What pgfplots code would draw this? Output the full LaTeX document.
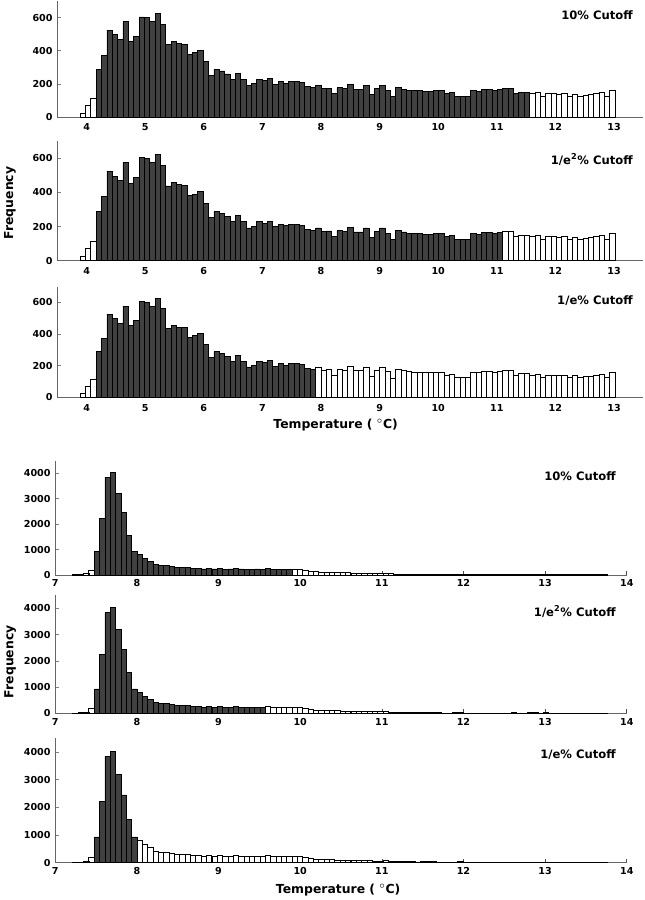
\documentclass[border=0pt]{standalone}
\usepackage{fontspec}
\setmainfont{DejaVu Sans}
\usepackage{pgfplots}
\pgfplotsset{compat=1.18}
\usepackage{pgfplotstable}

% top group: 100 bins of width 0.0913
\pgfplotstableread{
x y
3.936 24
4.027 72
4.118 112
4.210 288
4.301 374
4.392 524
4.483 496
4.575 468
4.666 574
4.757 454
4.848 488
4.940 604
5.031 600
5.122 574
5.214 624
5.305 560
5.396 438
5.487 456
5.579 444
5.670 440
5.761 380
5.853 390
5.944 404
6.035 334
6.127 252
6.218 288
6.309 278
6.401 260
6.492 228
6.583 264
6.675 228
6.766 192
6.857 200
6.949 228
7.040 218
7.131 232
7.222 198
7.314 212
7.405 204
7.496 212
7.588 214
7.679 206
7.770 182
7.862 176
7.953 192
8.044 172
8.136 174
8.227 140
8.318 178
8.409 170
8.501 194
8.592 168
8.683 168
8.775 192
8.866 135
8.957 172
9.048 192
9.140 162
9.231 122
9.322 178
9.414 168
9.505 162
9.596 160
9.688 158
9.779 156
9.870 156
9.961 160
10.053 160
10.144 140
10.235 146
10.327 126
10.418 126
10.509 126
10.600 160
10.692 156
10.783 164
10.874 166
10.966 160
11.057 166
11.148 172
11.240 172
11.331 140
11.422 150
11.514 150
11.605 140
11.696 148
11.787 124
11.879 140
11.970 140
12.061 136
12.153 140
12.244 126
12.335 138
12.427 126
12.518 130
12.609 134
12.701 140
12.792 146
12.883 126
12.975 160
}\toptab

% bottom group: 100 bins of width 0.0655
\pgfplotstableread{
x y
7.248 15
7.313 25
7.379 50
7.444 190
7.510 930
7.575 2230
7.641 3850
7.706 4030
7.772 3200
7.837 2450
7.903 1570
7.968 930
8.034 800
8.099 650
8.165 540
8.230 400
8.296 380
8.361 370
8.427 330
8.492 310
8.558 300
8.623 290
8.689 270
8.754 250
8.820 240
8.885 250
8.951 240
9.016 250
9.082 230
9.147 240
9.213 270
9.278 240
9.344 230
9.409 230
9.475 240
9.540 230
9.606 260
9.671 230
9.737 230
9.802 220
9.868 210
9.933 230
9.999 210
10.064 180
10.130 140
10.195 130
10.261 120
10.326 120
10.392 110
10.457 100
10.523 90
10.588 90
10.654 80
10.719 80
10.785 70
10.850 70
10.916 60
10.981 60
11.047 70
11.112 50
11.178 40
11.243 40
11.309 30
11.374 30
11.440 20
11.505 30
11.571 40
11.636 30
11.702 20
11.767 10
11.833 10
11.898 20
11.964 30
12.029 10
12.095 5
12.160 5
12.226 5
12.291 5
12.357 5
12.422 5
12.488 5
12.553 5
12.619 20
12.684 10
12.750 5
12.815 20
12.881 25
12.946 10
13.012 20
13.077 15
13.143 15
13.208 15
13.274 15
13.339 15
13.405 15
13.470 15
13.536 15
13.601 15
13.667 15
13.732 15
}\bottab

\pgfplotsset{
  hist/.style={
    scale only axis, clip=false,
    axis x line=bottom, axis y line=left,
    axis line style={-, black!60, line width=0.7pt},
    ymin=0,
    scaled ticks=false,
    tick label style={font=\bfseries\fontsize{7.2}{8}\selectfont},
    /pgf/number format/assume math mode=true,
    /pgf/number format/1000 sep={},
    tick align=inside, major tick length=2.5pt,
    ytick style={black!50, line width=0.5pt},
  },
  tophist/.style={hist, xmin=3.5, xmax=13.5, ymax=700, width=439.5pt,
    xtick={4,...,13}, ytick={0,200,400,600}, xtick style={draw=none},
    xticklabel style={yshift=-1.5pt}},
  bothist/.style={hist, xmin=7, xmax=14, ymax=4500, width=428.6pt,
    xtick={7,...,14}, ytick={0,1000,2000,3000,4000},
    xtick style={black!70, line width=0.5pt}, major tick length=3pt},
  wbar/.style={ybar, bar shift=0pt, fill=white, draw=black, line width=0.6pt},
  gbar/.style={ybar, bar shift=0pt, fill=black!75, draw=black, line width=0.6pt},
}
\tikzset{
  ttl/.style={anchor=east, font=\bfseries\fontsize{8.7}{10}\selectfont},
  lbl/.style={font=\bfseries\fontsize{9.3}{11}\selectfont},
}

\begin{document}
\begin{tikzpicture}
\path[use as bounding box] (0,0) rectangle (483pt,-675pt);

% ---- top group ----
\begin{axis}[tophist, at={(42.98pt,-87.75pt)}, anchor=south west, height=87pt]
  \addplot[wbar, bar width=0.0913] table {\toptab};
  \addplot[gbar, bar width=0.0913, restrict x to domain=4.16:11.56] table {\toptab};
  \node[ttl] at (rel axis cs:0.99,0.88) {10\% Cutoff};
\end{axis}

\begin{axis}[tophist, at={(42.98pt,-195.5pt)}, anchor=south west, height=89.6pt]
  \addplot[wbar, bar width=0.0913] table {\toptab};
  \addplot[gbar, bar width=0.0913, restrict x to domain=4.16:11.10] table {\toptab};
  \node[ttl] at (rel axis cs:0.99,0.85) {1/e\textsuperscript{2}\% Cutoff};
  \node[lbl, rotate=90] at (rel axis cs:-0.0807,0.483) {Frequency};
\end{axis}

\begin{axis}[tophist, at={(42.98pt,-298.0pt)}, anchor=south west, height=83.1pt]
  \addplot[wbar, bar width=0.0913] table {\toptab};
  \addplot[gbar, bar width=0.0913, restrict x to domain=4.16:7.91] table {\toptab};
  \node[ttl] at (rel axis cs:0.99,0.87) {1/e\% Cutoff};
  \node[lbl] at (rel axis cs:0.475,-0.25) {Temperature ( $^{\circ}$C)};
\end{axis}

% ---- bottom group ----
\begin{axis}[bothist, at={(41.48pt,-431.25pt)}, anchor=south west, height=85.8pt]
  \addplot[wbar, bar width=0.0655] table {\bottab};
  \addplot[gbar, bar width=0.0655, restrict x to domain=7.48:9.90] table {\bottab};
  \node[ttl] at (rel axis cs:0.989,0.865) {10\% Cutoff};
\end{axis}

\begin{axis}[bothist, at={(41.48pt,-535.0pt)}, anchor=south west, height=88.5pt]
  \addplot[wbar, bar width=0.0655] table {\bottab};
  \addplot[gbar, bar width=0.0655, restrict x to domain=7.48:9.57] table {\bottab};
  \node[ttl] at (rel axis cs:0.989,0.865) {1/e\textsuperscript{2}\% Cutoff};
  \node[lbl, rotate=90] at (rel axis cs:-0.079,0.437) {Frequency};
\end{axis}

\begin{axis}[bothist, at={(41.48pt,-647.0pt)}, anchor=south west, height=93.3pt]
  \addplot[wbar, bar width=0.0655] table {\bottab};
  \addplot[gbar, bar width=0.0655, restrict x to domain=7.48:8.00] table {\bottab};
  \node[ttl] at (rel axis cs:0.989,0.866) {1/e\% Cutoff};
  \node[lbl] at (rel axis cs:0.495,-0.22) {Temperature ( $^{\circ}$C)};
\end{axis}
\end{tikzpicture}
\end{document}
